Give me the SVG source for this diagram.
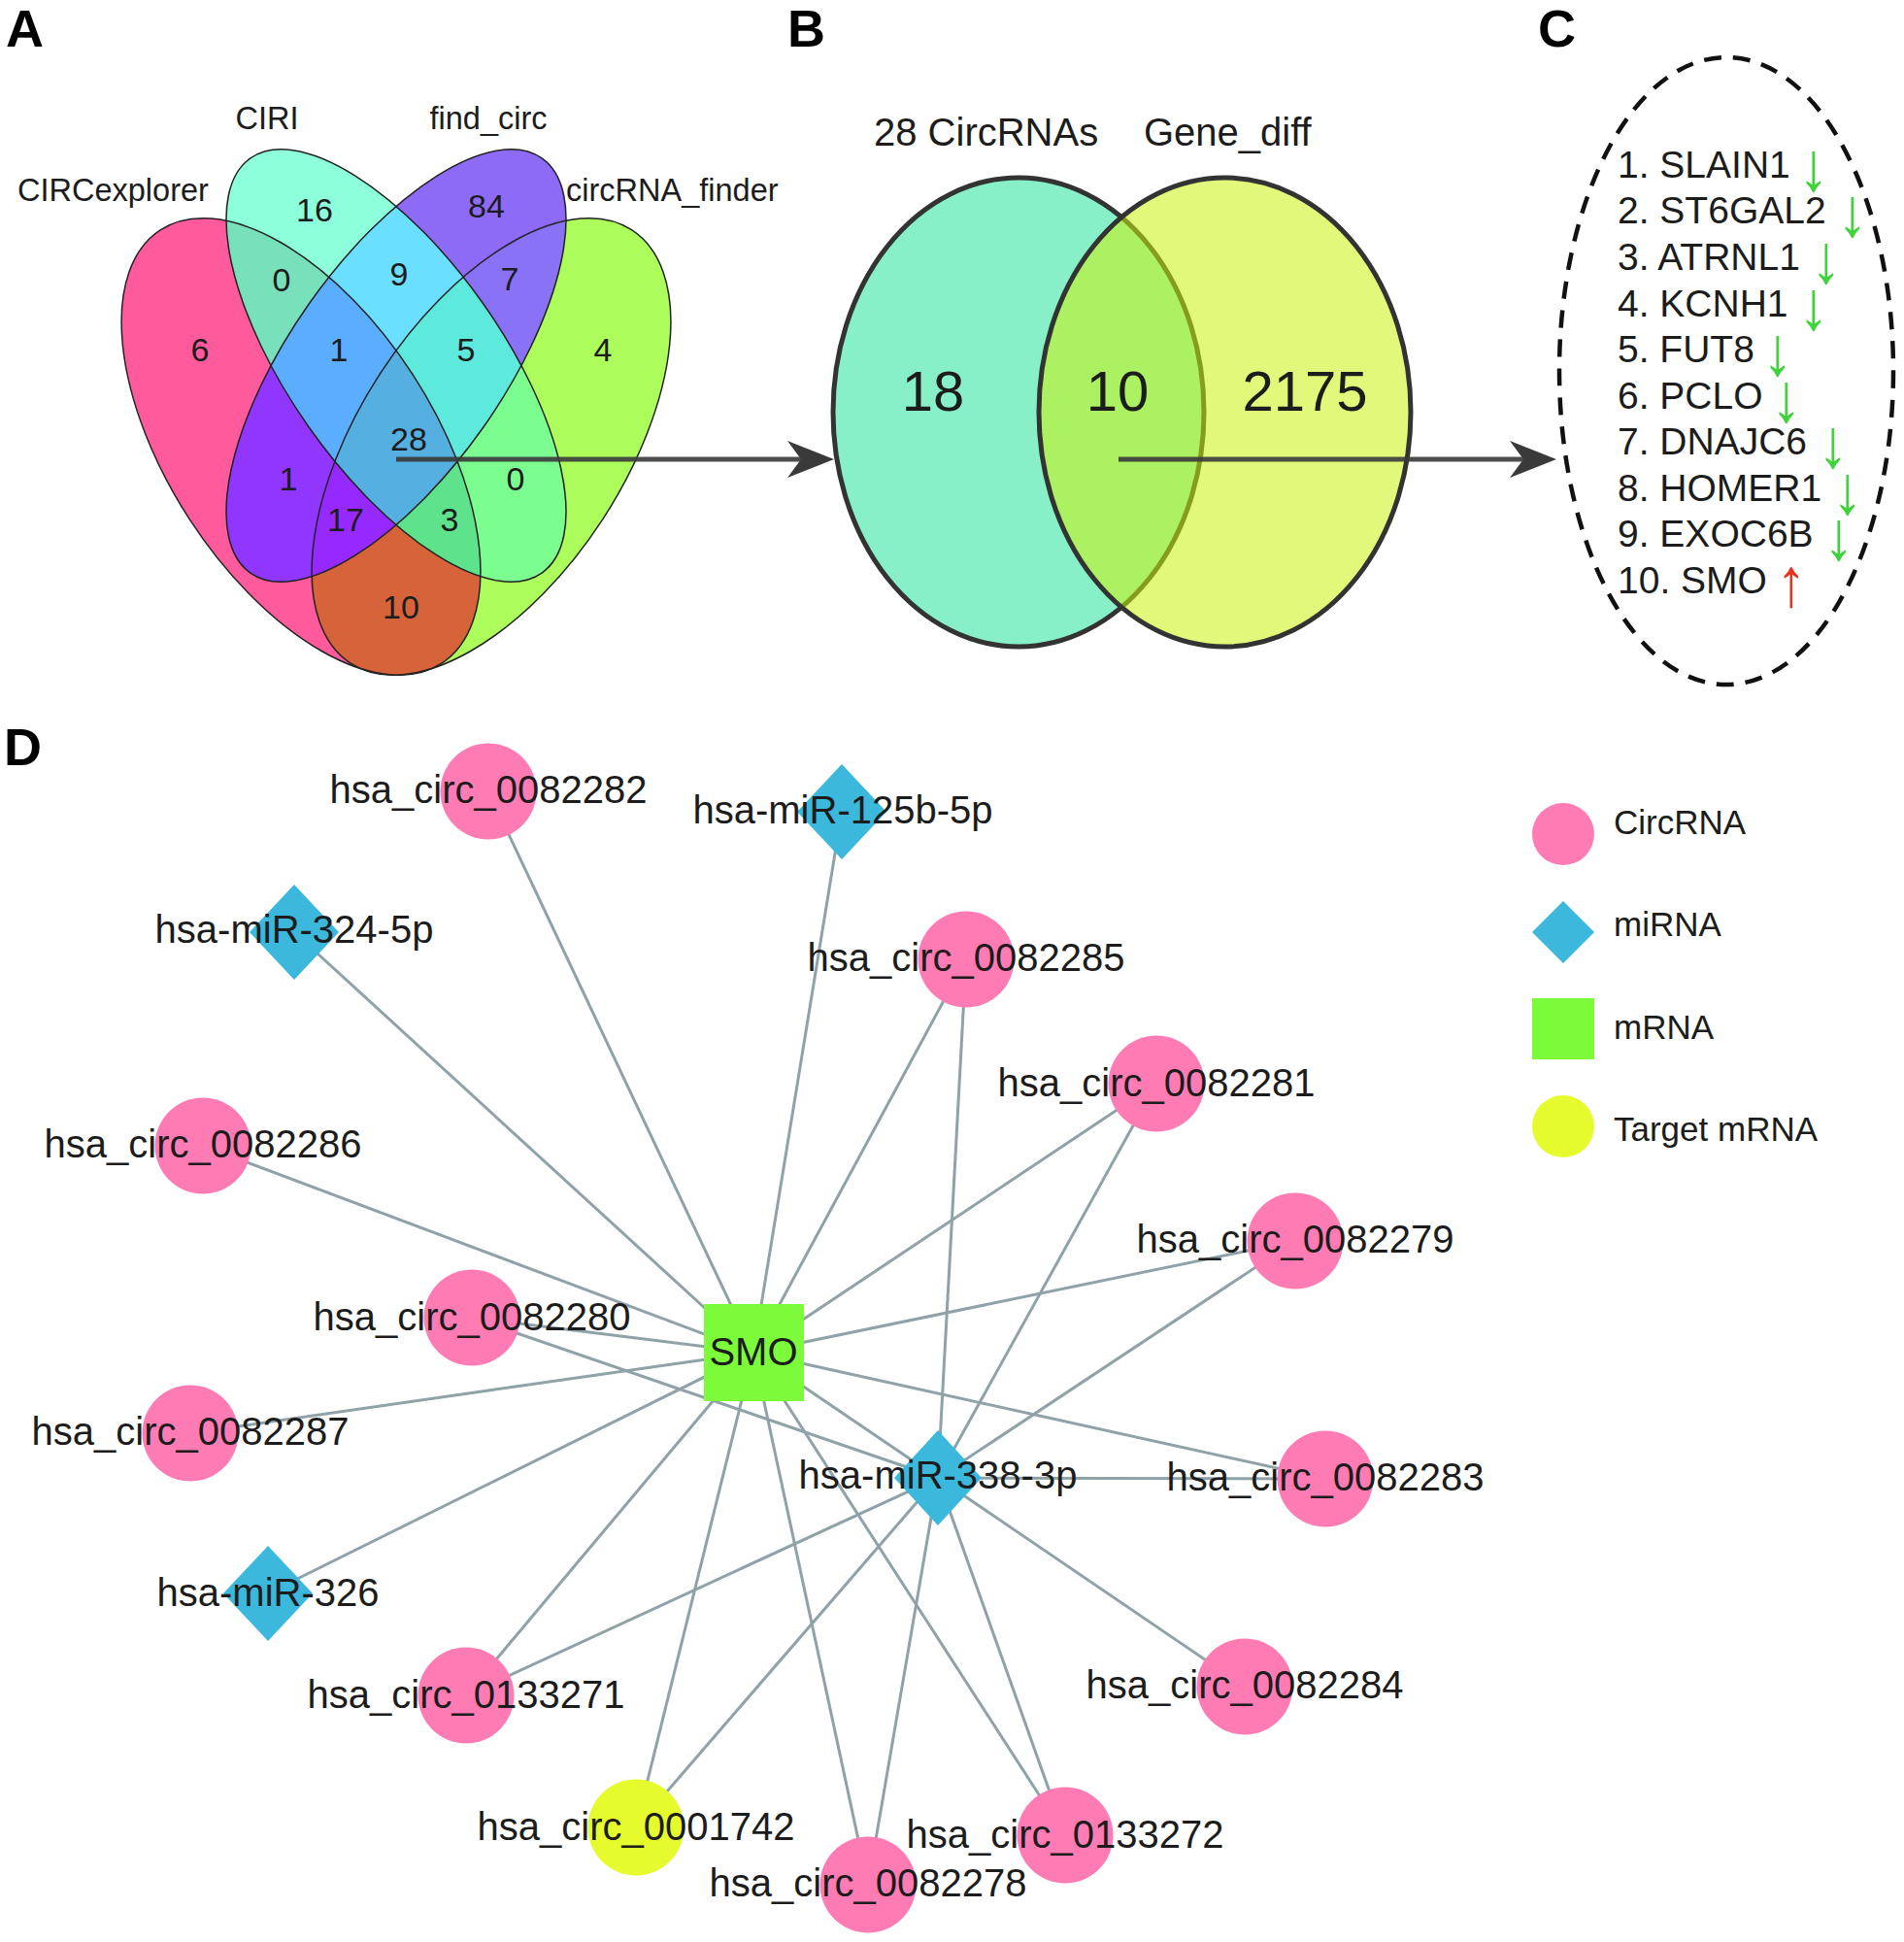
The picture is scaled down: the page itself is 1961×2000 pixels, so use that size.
<svg xmlns="http://www.w3.org/2000/svg" xmlns:xlink="http://www.w3.org/1999/xlink" width="1961" height="2000" viewBox="0 0 1961 2000">
<style>
text{font-family:"Liberation Sans",Arial,sans-serif;fill:#1c1c1c}
.panel{font-size:54px;font-weight:bold;fill:#000}
.vl{font-size:32.5px}
.vn{font-size:34px;text-anchor:middle}
.bn{font-size:58px;text-anchor:middle}
.bl{font-size:40px}
.li{font-size:39px}
.dn{font-size:62px;fill:#3fd23a;text-anchor:middle}
.up{font-size:62px;fill:#e8321e;text-anchor:middle}
.nl{font-size:40px;text-anchor:middle}
.lg{font-size:35px}
.circ{fill:#ff7bb4}
.mir{fill:#3bb8dc}
.edge line{stroke:#8fa2a7;stroke-width:3}
.vo{fill:none;stroke:#222;stroke-width:1.5}
</style>
<defs>
<ellipse id="eP" cx="310" cy="460" rx="266" ry="137" transform="rotate(57 310 460)"/>
<ellipse id="eG" cx="506" cy="460" rx="266" ry="137" transform="rotate(-57 506 460)"/>
<ellipse id="eC" cx="408" cy="376.5" rx="261" ry="110" transform="rotate(54.9 408 376.5)"/>
<ellipse id="eU" cx="408" cy="376.5" rx="261" ry="110" transform="rotate(-54.9 408 376.5)"/>
<clipPath id="cP"><ellipse cx="310" cy="460" rx="266" ry="137" transform="rotate(57 310 460)"/></clipPath>
<clipPath id="cG"><ellipse cx="506" cy="460" rx="266" ry="137" transform="rotate(-57 506 460)"/></clipPath>
<clipPath id="cC"><ellipse cx="408" cy="376.5" rx="261" ry="110" transform="rotate(54.9 408 376.5)"/></clipPath>
<clipPath id="cU"><ellipse cx="408" cy="376.5" rx="261" ry="110" transform="rotate(-54.9 408 376.5)"/></clipPath>
<path id="ahead" d="M0 0 L-48 -19 L-34 0 L-48 19 Z" fill="#3a3a3a"/>
</defs>
<rect width="1961" height="2000" fill="#fff"/>

<!-- Panel A -->
<g id="panelA">
<text class="panel" x="6" y="48">A</text>
<g id="venn4">
<use xlink:href="#eP" fill="#ff5a9b"/>
<use xlink:href="#eC" fill="#8dffda"/>
<use xlink:href="#eU" fill="#8e6bf7"/>
<use xlink:href="#eG" fill="#acfc5c"/>
<use xlink:href="#eP" fill="#78e0ba" clip-path="url(#cC)"/>
<use xlink:href="#eP" fill="#9136ff" clip-path="url(#cU)"/>
<use xlink:href="#eP" fill="#d6633a" clip-path="url(#cG)"/>
<use xlink:href="#eC" fill="#6adfff" clip-path="url(#cU)"/>
<use xlink:href="#eC" fill="#7bfd8f" clip-path="url(#cG)"/>
<use xlink:href="#eU" fill="#8a72f7" clip-path="url(#cG)"/>
<g clip-path="url(#cU)"><use xlink:href="#eP" fill="#5baeff" clip-path="url(#cC)"/></g>
<g clip-path="url(#cG)"><use xlink:href="#eP" fill="#5ee28c" clip-path="url(#cC)"/></g>
<g clip-path="url(#cG)"><use xlink:href="#eP" fill="#9629ff" clip-path="url(#cU)"/></g>
<g clip-path="url(#cG)"><use xlink:href="#eC" fill="#5de9db" clip-path="url(#cU)"/></g>
<g clip-path="url(#cG)"><g clip-path="url(#cU)"><use xlink:href="#eP" fill="#55b0e1" clip-path="url(#cC)"/></g></g>
<use xlink:href="#eP" class="vo"/>
<use xlink:href="#eC" class="vo"/>
<use xlink:href="#eU" class="vo"/>
<use xlink:href="#eG" class="vo"/>
</g>
<text class="vl" x="275" y="133" text-anchor="middle">CIRI</text>
<text class="vl" x="503" y="133" text-anchor="middle">find_circ</text>
<text class="vl" x="18" y="207">CIRCexplorer</text>
<text class="vl" x="583" y="207">circRNA_finder</text>
<text class="vn" x="324" y="228">16</text>
<text class="vn" x="501" y="224">84</text>
<text class="vn" x="290" y="300">0</text>
<text class="vn" x="411" y="294">9</text>
<text class="vn" x="525" y="299">7</text>
<text class="vn" x="206" y="372">6</text>
<text class="vn" x="349" y="372">1</text>
<text class="vn" x="480" y="372">5</text>
<text class="vn" x="621" y="372">4</text>
<text class="vn" x="421" y="464">28</text>
<text class="vn" x="297" y="505">1</text>
<text class="vn" x="531" y="505">0</text>
<text class="vn" x="356" y="547">17</text>
<text class="vn" x="463" y="547">3</text>
<text class="vn" x="413" y="637">10</text>
</g>

<!-- Panel B -->
<g id="panelB">
<text class="panel" x="811" y="48">B</text>
<text class="bl" x="900" y="150">28 CircRNAs</text>
<text class="bl" x="1178" y="150">Gene_diff</text>
<ellipse cx="1049" cy="424.5" rx="191" ry="241.5" fill="#88f0c8" stroke="#333" stroke-width="5"/>
<ellipse cx="1261.5" cy="424.5" rx="191.5" ry="241.5" fill="#caf20d" fill-opacity="0.55" stroke="#333" stroke-width="5"/>
<text class="bn" x="961" y="423">18</text>
<text class="bn" x="1151" y="423">10</text>
<text class="bn" x="1344" y="423">2175</text>
</g>

<!-- arrows A->B->C -->
<g id="flowArrows">
<line x1="408" y1="473" x2="826" y2="473" stroke="#3a3a3a" stroke-width="5" stroke-opacity="0.9"/>
<use xlink:href="#ahead" x="859" y="473"/>
<line x1="1152" y1="473" x2="1570" y2="473" stroke="#3a3a3a" stroke-width="5" stroke-opacity="0.9"/>
<use xlink:href="#ahead" x="1603" y="473"/>
</g>

<!-- Panel C -->
<g id="panelC">
<text class="panel" x="1584" y="48">C</text>
<ellipse cx="1778" cy="382" rx="172" ry="323" fill="none" stroke="#111" stroke-width="4.5" stroke-dasharray="18 12"/>
<text class="li" x="1666" y="183">1. SLAIN1</text><text class="dn" transform="translate(1868,196) scale(1,1.15)">↓</text>
<text class="li" x="1666" y="230">2. ST6GAL2</text><text class="dn" transform="translate(1908,243) scale(1,1.15)">↓</text>
<text class="li" x="1666" y="278">3. ATRNL1</text><text class="dn" transform="translate(1881,291) scale(1,1.15)">↓</text>
<text class="li" x="1666" y="326">4. KCNH1</text><text class="dn" transform="translate(1868,339) scale(1,1.15)">↓</text>
<text class="li" x="1666" y="373">5. FUT8</text><text class="dn" transform="translate(1831,386) scale(1,1.15)">↓</text>
<text class="li" x="1666" y="421">6. PCLO</text><text class="dn" transform="translate(1840,434) scale(1,1.15)">↓</text>
<text class="li" x="1666" y="468">7. DNAJC6</text><text class="dn" transform="translate(1888,481) scale(1,1.15)">↓</text>
<text class="li" x="1666" y="516">8. HOMER1</text><text class="dn" transform="translate(1903,529) scale(1,1.15)">↓</text>
<text class="li" x="1666" y="563">9. EXOC6B</text><text class="dn" transform="translate(1894,576) scale(1,1.15)">↓</text>
<text class="li" x="1666" y="611">10. SMO</text><text class="up" transform="translate(1845,624) scale(1,1.15)">↑</text>
</g>

<!-- Panel D -->
<text class="panel" x="4" y="788">D</text>
<g id="connectors" class="edge">
<line x1="776" y1="1393" x2="503" y2="815"/>
<line x1="776" y1="1393" x2="867" y2="836"/>
<line x1="776" y1="1393" x2="303" y2="960"/>
<line x1="776" y1="1393" x2="995" y2="988"/>
<line x1="776" y1="1393" x2="1191" y2="1116"/>
<line x1="776" y1="1393" x2="209" y2="1180"/>
<line x1="776" y1="1393" x2="1334" y2="1278"/>
<line x1="776" y1="1393" x2="486" y2="1357"/>
<line x1="776" y1="1393" x2="196" y2="1476"/>
<line x1="776" y1="1393" x2="276" y2="1641"/>
<line x1="776" y1="1393" x2="480" y2="1746"/>
<line x1="776" y1="1393" x2="655" y2="1882"/>
<line x1="776" y1="1393" x2="894" y2="1941"/>
<line x1="776" y1="1393" x2="1097" y2="1890"/>
<line x1="776" y1="1393" x2="1365" y2="1523"/>
<line x1="776" y1="1393" x2="966" y2="1522"/>
<line x1="966" y1="1522" x2="995" y2="988"/>
<line x1="966" y1="1522" x2="1191" y2="1116"/>
<line x1="966" y1="1522" x2="1334" y2="1278"/>
<line x1="966" y1="1522" x2="1365" y2="1523"/>
<line x1="966" y1="1522" x2="1282" y2="1737"/>
<line x1="966" y1="1522" x2="1097" y2="1890"/>
<line x1="966" y1="1522" x2="894" y2="1941"/>
<line x1="966" y1="1522" x2="655" y2="1882"/>
<line x1="966" y1="1522" x2="480" y2="1746"/>
<line x1="966" y1="1522" x2="486" y2="1357"/>
</g>

<g id="n_circ_0082282"><circle class="circ" cx="503" cy="815" r="49.5"/><text class="nl" x="503" y="827">hsa_circ_0082282</text></g>
<g id="n_miR_125b_5p"><polygon class="mir" points="867,787 913,836 867,885 821,836"/><text class="nl" x="868" y="848">hsa-miR-125b-5p</text></g>
<g id="n_miR_324_5p"><polygon class="mir" points="303,911 349,960 303,1009 257,960"/><text class="nl" x="303" y="971">hsa-miR-324-5p</text></g>
<g id="n_circ_0082285"><circle class="circ" cx="995" cy="988" r="49.5"/><text class="nl" x="995" y="1000">hsa_circ_0082285</text></g>
<g id="n_circ_0082281"><circle class="circ" cx="1191" cy="1116" r="49.5"/><text class="nl" x="1191" y="1129">hsa_circ_0082281</text></g>
<g id="n_circ_0082286"><circle class="circ" cx="209" cy="1180" r="49.5"/><text class="nl" x="209" y="1192">hsa_circ_0082286</text></g>
<g id="n_circ_0082279"><circle class="circ" cx="1334" cy="1278" r="49.5"/><text class="nl" x="1334" y="1290">hsa_circ_0082279</text></g>
<g id="n_circ_0082280"><circle class="circ" cx="486" cy="1357" r="49.5"/><text class="nl" x="486" y="1370">hsa_circ_0082280</text></g>
<g id="n_SMO"><rect x="725" y="1343" width="103" height="100" fill="#7bfb3a"/><text class="nl" x="776" y="1406">SMO</text></g>
<g id="n_circ_0082287"><circle class="circ" cx="196" cy="1476" r="49.5"/><text class="nl" x="196" y="1488">hsa_circ_0082287</text></g>
<g id="n_miR_338_3p"><polygon class="mir" points="966,1473 1011,1522 966,1571 921,1522"/><text class="nl" x="966" y="1533">hsa-miR-338-3p</text></g>
<g id="n_circ_0082283"><circle class="circ" cx="1365" cy="1523" r="49.5"/><text class="nl" x="1365" y="1535">hsa_circ_0082283</text></g>
<g id="n_miR_326"><polygon class="mir" points="276,1592 322,1641 276,1690 230,1641"/><text class="nl" x="276" y="1654">hsa-miR-326</text></g>
<g id="n_circ_0082284"><circle class="circ" cx="1282" cy="1737" r="49.5"/><text class="nl" x="1282" y="1749">hsa_circ_0082284</text></g>
<g id="n_circ_0133271"><circle class="circ" cx="480" cy="1746" r="49.5"/><text class="nl" x="480" y="1759">hsa_circ_0133271</text></g>
<g id="n_circ_0001742"><circle cx="655" cy="1882" r="49.5" fill="#e5fb2e"/><text class="nl" x="655" y="1895">hsa_circ_0001742</text></g>
<g id="n_circ_0133272"><circle class="circ" cx="1097" cy="1890" r="49.5"/><text class="nl" x="1097" y="1903">hsa_circ_0133272</text></g>
<g id="n_circ_0082278"><circle class="circ" cx="894" cy="1941" r="49.5"/><text class="nl" x="894" y="1953">hsa_circ_0082278</text></g>

<g id="legend">
<circle class="circ" cx="1610" cy="859" r="32"/><text class="lg" x="1662" y="859">CircRNA</text>
<polygon class="mir" points="1610,928 1642,960 1610,992 1578,960"/><text class="lg" x="1662" y="964">miRNA</text>
<rect x="1578" y="1028" width="64" height="63" fill="#7bfb3a"/><text class="lg" x="1662" y="1070">mRNA</text>
<circle cx="1610" cy="1160" r="32" fill="#e5fb2e"/><text class="lg" x="1662" y="1175">Target mRNA</text>
</g>
</svg>
